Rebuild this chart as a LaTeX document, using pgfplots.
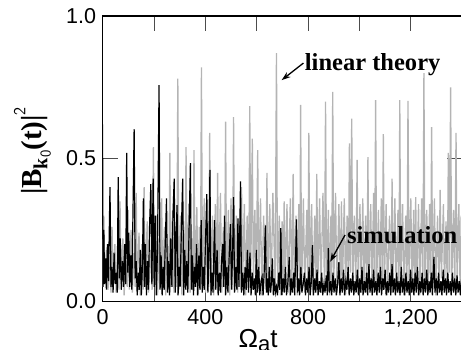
\documentclass[border=0pt]{standalone}
\usepackage{fontspec}
\setmainfont{Liberation Sans}
\newfontfamily\serifb{Liberation Serif}
\usepackage{pgfplots}
\pgfplotsset{compat=1.18}
\usetikzlibrary{arrows.meta}
\definecolor{lingray}{RGB}{180,180,180}
\begin{document}
\begin{tikzpicture}[x=1pt,y=1pt]
\useasboundingbox (-102.5,-48) rectangle (358.3,301);
\begin{axis}[
  scale only axis, width=359.5pt, height=285pt,
  at={(0,0)}, anchor=south west,
  xmin=0, xmax=1400, ymin=0, ymax=1,
  axis line style={line width=1.1pt},
  tick align=inside, major tick length=15pt, minor tick length=15pt,
  tick style={line width=0.8pt, color=black!70},
  xtick={0,400,800,1200}, minor xtick={200,600,1000},
  ytick={0,0.5,1},
  /pgf/number format/assume math mode=true,
  xticklabel style={/pgf/number format/1000 sep={,}, font=\fontsize{21.5}{24}\selectfont, yshift=-5pt},
  yticklabel style={/pgf/number format/fixed, /pgf/number format/fixed zerofill, /pgf/number format/precision=1, font=\fontsize{21.5}{24}\selectfont, xshift=-3pt},
  clip=true,
]
\addplot[lingray, line width=1.3pt] coordinates {
(0,0.05) (5,0.30) (9,0.06) (16,0.18) (21,0.04) (28,0.12) (33,0.03)
(37,0.26) (41,0.05) (48,0.20) (53,0.03) (59,0.15) (64,0.04)
(68,0.35) (72,0.06) (79,0.22) (84,0.02) (90,0.14) (96,0.05)
(100,0.32) (104,0.04) (111,0.25) (116,0.03) (122,0.17) (127,0.05)
(131,0.38) (135,0.05) (142,0.24) (147,0.02) (153,0.20) (158,0.04)
(162,0.40) (166,0.06) (174,0.28) (179,0.03) (186,0.18) (193,0.04)
(198,0.54) (202,0.05) (209,0.30) (214,0.02) (220,0.22) (226,0.05)
(230,0.36) (234,0.04) (241,0.26) (246,0.02) (252,0.20) (258,0.04)
(262,0.52) (266,0.05) (273,0.32) (278,0.03) (284,0.24) (289,0.05)
(293,0.78) (297,0.04) (304,0.30) (309,0.02) (315,0.28) (321,0.05)
(325,0.54) (329,0.06) (336,0.34) (341,0.03) (347,0.22) (352,0.04)
(356,0.53) (360,0.05) (367,0.33) (372,0.02) (377,0.26) (381,0.04)
(385,0.82) (389,0.05) (396,0.36) (401,0.03) (407,0.28) (413,0.05)
(417,0.59) (421,0.04) (428,0.30) (433,0.02) (439,0.34) (444,0.04)
(448,0.45) (452,0.05) (459,0.38) (464,0.03) (470,0.26) (475,0.05)
(479,0.63) (483,0.04) (490,0.32) (495,0.02) (500,0.36) (506,0.04)
(510,0.645) (514,0.05) (521,0.30) (526,0.03) (532,0.28) (537,0.04)
(541,0.40) (545,0.05) (552,0.34) (557,0.02) (563,0.30) (569,0.04)
(573,0.684) (577,0.10) (583,0.57) (587,0.05) (593,0.32) (598,0.04)
(604,0.53) (608,0.05) (615,0.36) (620,0.02) (627,0.30) (635,0.04)
(640,0.45) (644,0.05) (651,0.34) (656,0.03) (663,0.38) (672,0.04)
(677,0.87) (681,0.05) (688,0.30) (693,0.02) (699,0.28) (703,0.04)
(707,0.35) (711,0.05) (718,0.34) (723,0.03) (731,0.36) (737,0.04)
(742,0.446) (746,0.05) (753,0.30) (758,0.02) (764,0.34) (768,0.05)
(771,0.688) (775,0.04) (782,0.36) (787,0.03) (795,0.32) (799,0.04)
(803,0.59) (807,0.05) (814,0.34) (819,0.02) (826,0.30) (830,0.04)
(834,0.446) (838,0.05) (845,0.36) (850,0.03) (858,0.38) (864,0.04)
(868,0.70) (872,0.05) (879,0.32) (884,0.02) (889,0.30) (892,0.04)
(896,0.734) (900,0.05) (907,0.38) (912,0.03) (920,0.34) (926,0.04)
(930,0.35) (934,0.05) (941,0.36) (946,0.02) (952,0.30) (957,0.04)
(961,0.553) (965,0.10) (970,0.64) (974,0.04) (980,0.30) (986,0.05)
(991,0.495) (995,0.04) (1002,0.34) (1007,0.03) (1013,0.36) (1018,0.04) (1024,0.30) (1029,0.03)
(1033,0.505) (1037,0.05) (1044,0.34) (1049,0.02) (1055,0.38) (1059,0.04)
(1063,0.705) (1067,0.05) (1074,0.32) (1079,0.03) (1085,0.36) (1089,0.04)
(1093,0.586) (1097,0.05) (1104,0.34) (1109,0.02) (1117,0.30) (1123,0.04)
(1127,0.43) (1131,0.05) (1138,0.36) (1143,0.03) (1150,0.32) (1154,0.04)
(1157,0.705) (1161,0.05) (1168,0.34) (1173,0.02) (1180,0.30) (1185,0.04)
(1189,0.702) (1193,0.05) (1200,0.36) (1205,0.03) (1211,0.32) (1215,0.04)
(1219,0.365) (1223,0.05) (1230,0.34) (1235,0.02) (1242,0.36) (1247,0.04)
(1251,0.80) (1255,0.05) (1262,0.32) (1267,0.03) (1273,0.34) (1277,0.04)
(1281,0.61) (1285,0.05) (1292,0.36) (1297,0.02) (1304,0.30) (1310,0.04)
(1314,0.39) (1319,0.08) (1327,0.34) (1331,0.03) (1337,0.28) (1342,0.04)
(1346,0.52) (1350,0.10) (1355,0.75) (1359,0.05) (1366,0.32) (1371,0.04)
(1376,0.59) (1380,0.05) (1387,0.34) (1392,0.03) (1396,0.30) (1400,0.10)
};
\addplot[black, line width=1.2pt] coordinates {
(0,0.62) (2,0.05) (5,0.25) (8,0.06) (12,0.15) (15,0.04) (19,0.20) (23,0.07) (29,0.40) (33,0.05)
(37,0.12) (41,0.03) (45,0.17) (49,0.06) (54,0.10) (57,0.03) (61,0.435) (65,0.08) (69,0.22) (73,0.04)
(78,0.14) (82,0.05) (86,0.20) (90,0.06) (94,0.52) (98,0.10) (102,0.24) (106,0.05) (110,0.16) (114,0.04)
(118,0.28) (123,0.603) (127,0.08) (131,0.14) (135,0.02) (139,0.10) (143,0.04) (147,0.18) (151,0.02) (155,0.12)
(159,0.36) (163,0.05) (167,0.20) (171,0.02) (175,0.14) (179,0.04) (183,0.26) (188,0.41) (192,0.06) (197,0.43)
(201,0.05) (205,0.30) (209,0.02) (214,0.18) (220,0.758) (224,0.04) (228,0.16) (232,0.02) (236,0.12) (240,0.04)
(244,0.20) (249,0.36) (253,0.03) (257,0.14) (261,0.02) (265,0.22) (270,0.05) (274,0.30) (279,0.43) (283,0.03)
(286,0.20) (290,0.337) (294,0.02) (298,0.12) (302,0.05) (307,0.25) (312,0.43) (316,0.02) (320,0.18) (324,0.04)
(328,0.14) (332,0.03) (337,0.26) (342,0.484) (346,0.04) (350,0.16) (354,0.02) (358,0.12) (362,0.05) (366,0.20)
(370,0.02) (375,0.16) (379,0.04) (384,0.284) (388,0.03) (392,0.12) (396,0.04) (401,0.22) (406,0.375) (410,0.03)
(414,0.14) (418,0.46) (422,0.02) (426,0.10) (430,0.03) (436,0.284) (440,0.04) (446,0.18) (450,0.02) (455,0.10)
(459,0.03) (463,0.14) (468,0.20) (471,0.05) (475,0.30) (479,0.02) (484,0.12) (488,0.03) (493,0.16) (498,0.27)
(502,0.04) (506,0.16) (510,0.365) (514,0.03) (519,0.12) (523,0.04) (527,0.29) (531,0.05) (537,0.42) (541,0.03)
(546,0.10) (550,0.02) (555,0.12) (559,0.04) (564,0.18) (568,0.03) (574,0.17) (578,0.02) (583,0.10) (587,0.04)
(592,0.08) (595,0.02) (599,0.18) (603,0.03) (608,0.12) (612,0.02) (617,0.07) (621,0.085) (625,0.02) (629,0.10)
(634,0.266) (638,0.03) (642,0.08) (645,0.02) (649,0.12) (653,0.03) (657,0.06) (661,0.15) (665,0.02) (669,0.08)
(673,0.03) (677,0.05) (681,0.02) (686,0.10) (690,0.04) (694,0.256) (698,0.02) (703,0.08) (707,0.03) (712,0.12)
(716,0.02) (721,0.06) (727,0.155) (731,0.02) (735,0.08) (739,0.03) (744,0.10) (748,0.02) (755,0.287) (759,0.03)
(763,0.08) (767,0.02) (772,0.12) (776,0.03) (781,0.06) (786,0.10) (790,0.02) (795,0.08) (799,0.03) (804,0.12)
(808,0.02) (812,0.06) (817,0.196) (821,0.02) (826,0.08) (830,0.03) (835,0.11) (839,0.02) (844,0.07) (848,0.03)
(853,0.10) (857,0.02) (862,0.06) (866,0.03) (871,0.09) (875,0.02) (879,0.186) (883,0.03) (888,0.07) (892,0.02)
(897,0.10) (901,0.03) (906,0.08) (910,0.02) (915,0.06) (920,0.137) (924,0.02) (929,0.08) (933,0.03) (938,0.11)
(942,0.02) (947,0.07) (951,0.04) (956,0.12) (960,0.02) (965,0.08) (969,0.03) (974,0.10) (978,0.02) (983,0.07)
(987,0.03) (992,0.11) (996,0.02) (1001,0.08) (1005,0.03) (1010,0.12) (1014,0.02) (1019,0.07) (1023,0.03) (1028,0.10)
(1032,0.02) (1037,0.13) (1041,0.03) (1046,0.08) (1050,0.02) (1055,0.11) (1059,0.03) (1064,0.07) (1068,0.02) (1073,0.10)
(1077,0.03) (1082,0.12) (1086,0.02) (1091,0.08) (1095,0.04) (1100,0.11) (1104,0.02) (1109,0.07) (1113,0.03) (1118,0.10)
(1122,0.02) (1127,0.13) (1131,0.03) (1136,0.08) (1140,0.02) (1145,0.10) (1149,0.03) (1154,0.07) (1158,0.02) (1163,0.12)
(1167,0.03) (1172,0.08) (1176,0.02) (1181,0.10) (1185,0.03) (1190,0.07) (1194,0.02) (1199,0.11) (1203,0.03) (1208,0.08)
(1212,0.02) (1217,0.10) (1221,0.03) (1226,0.12) (1230,0.02) (1235,0.07) (1239,0.03) (1244,0.10) (1248,0.02) (1253,0.08)
(1257,0.03) (1262,0.11) (1266,0.02) (1271,0.07) (1275,0.03) (1280,0.10) (1284,0.02) (1290,0.155) (1294,0.03) (1299,0.08)
(1303,0.02) (1308,0.10) (1312,0.03) (1317,0.07) (1321,0.02) (1326,0.11) (1330,0.03) (1335,0.08) (1339,0.02) (1344,0.10)
(1348,0.03) (1353,0.07) (1357,0.02) (1362,0.10) (1366,0.03) (1371,0.08) (1375,0.02) (1380,0.09) (1384,0.03) (1389,0.07)
(1393,0.02) (1398,0.08) (1400,0.05)
};
\draw[line width=1.3pt, -{Stealth[length=9pt,width=6pt]}] (axis cs:782,0.835) -- (axis cs:697,0.775);
\draw[line width=1.3pt, -{Stealth[length=9pt,width=6pt]}] (axis cs:944,0.232) -- (axis cs:886,0.138);
\node[anchor=west, inner sep=0pt, font=\serifb\bfseries\fontsize{24.5}{26}\selectfont] at (axis cs:787,0.83) {linear theory};
\node[anchor=west, inner sep=0pt, font=\serifb\bfseries\fontsize{24.5}{26}\selectfont] at (axis cs:951,0.232) {simulation};
\end{axis}
\node[anchor=base, inner sep=0pt, font=\fontsize{26}{28}\selectfont] at (155.5,-46) {Ω\raisebox{-0.3ex}{\fontsize{22}{24}\selectfont a}t};
\node[rotate=90, inner sep=0pt, font=\serifb\bfseries\fontsize{29}{31}\selectfont] at (-70,150) {|B\raisebox{-0.45ex}{\fontsize{20}{20}\selectfont k\raisebox{-0.35ex}{\sffamily\mdseries\fontsize{15}{15}\selectfont 0}}(t)|\raisebox{1.2ex}{\sffamily\mdseries\fontsize{17}{17}\selectfont 2}};
\end{tikzpicture}
\end{document}
